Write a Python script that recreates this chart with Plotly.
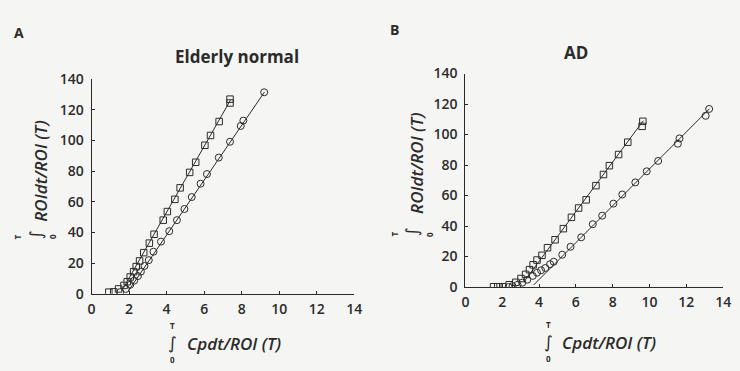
import plotly.graph_objects as go

# ---------------- data ----------------
# Panel A: Elderly normal
a_sq_x = [0.92, 1.18, 1.44, 1.73, 1.90, 2.06, 2.24, 2.38, 2.56, 2.78, 3.08, 3.33, 3.82, 4.04, 4.44, 4.72, 5.23, 5.55, 6.04, 6.34, 6.80, 7.38, 7.38]
a_sq_y = [1.0, 1.2, 3.1, 5.4, 7.8, 10.9, 14.4, 17.7, 21.4, 26.8, 33.0, 38.8, 48.0, 53.6, 61.6, 69.1, 79.2, 85.8, 96.9, 103.3, 112.4, 124.5, 127.0]
a_ci_x = [1.53, 1.83, 2.06, 2.27, 2.47, 2.63, 2.82, 3.05, 3.30, 3.70, 4.14, 4.55, 4.95, 5.34, 5.81, 6.15, 6.78, 7.38, 7.95, 8.09, 9.20]
a_ci_y = [1.0, 3.1, 5.8, 8.5, 11.5, 14.4, 18.1, 21.9, 27.4, 34.0, 40.8, 48.0, 55.3, 63.1, 71.8, 78.1, 88.9, 99.2, 109.5, 113.0, 131.5]

# Panel B: AD
b_sq_x = [1.53, 1.76, 2.03, 2.38, 2.74, 3.02, 3.27, 3.48, 3.68, 3.89, 4.16, 4.46, 4.87, 5.32, 5.76, 6.15, 6.56, 7.09, 7.50, 7.82, 8.32, 8.82, 9.60, 9.64]
b_sq_y = [0.2, 0.2, 0.2, 1.5, 3.1, 5.6, 8.3, 11.4, 14.6, 17.7, 20.8, 25.8, 31.0, 38.3, 45.7, 51.8, 57.2, 66.5, 73.8, 79.6, 86.9, 95.0, 105.4, 108.7]
b_ci_x = [2.35, 2.56, 2.83, 3.09, 3.36, 3.66, 3.89, 4.11, 4.34, 4.60, 4.80, 5.26, 5.71, 6.29, 6.92, 7.43, 8.04, 8.52, 9.23, 9.85, 10.47, 11.54, 11.63, 13.05, 13.24]
b_ci_y = [0.0, 0.6, 1.5, 2.9, 4.8, 7.3, 9.4, 11.0, 12.5, 15.0, 16.6, 21.2, 26.4, 32.6, 41.2, 46.8, 54.7, 60.7, 68.6, 75.9, 82.7, 94.0, 97.5, 112.3, 116.8]

# Linear fits: [slope, intercept, x_start, x_end]
a_sq_fit = [21.5, -32.8, 1.65, 7.40]
a_ci_fit = [17.9, -33.3, 1.95, 9.22]
b_sq_fit = [16.3, -48.4, 3.20, 9.66]
b_ci_fit = [12.1, -43.5, 3.70, 13.26]

x_ticks = [0, 2, 4, 6, 8, 10, 12, 14]
y_ticks = [0, 20, 40, 60, 80, 100, 120, 140]

titles = ["Elderly normal", "AD"]
panel_labels = ["A", "B"]
y_title = "ROIdt/ROI (T)"
x_title = "Cpdt/ROI (T)"
integral = "∫"
upper_limit = "T"
lower_limit = "0"

# ---------------- styling ----------------
INK = "#2b2b2b"
BG = "#f5f5f3"
FONT = "Open Sans"

fig = go.Figure()


def add_panel(sqx, sqy, cix, ciy, fit_sq, fit_ci, xa, ya):
    for fit in (fit_sq, fit_ci):
        s, b, x0, x1 = fit
        fig.add_trace(go.Scatter(x=[x0, x1], y=[s * x0 + b, s * x1 + b], mode="lines",
                                 line=dict(color=INK, width=1), xaxis=xa, yaxis=ya,
                                 showlegend=False, hoverinfo="skip"))
    fig.add_trace(go.Scatter(x=sqx, y=sqy, mode="markers", xaxis=xa, yaxis=ya, showlegend=False,
                             marker=dict(symbol="square-open", size=6.5, color=INK, line=dict(width=1))))
    fig.add_trace(go.Scatter(x=cix, y=ciy, mode="markers", xaxis=xa, yaxis=ya, showlegend=False,
                             marker=dict(symbol="circle-open", size=7, color=INK, line=dict(width=1))))


add_panel(a_sq_x, a_sq_y, a_ci_x, a_ci_y, a_sq_fit, a_ci_fit, "x", "y")
add_panel(b_sq_x, b_sq_y, b_ci_x, b_ci_y, b_sq_fit, b_ci_fit, "x2", "y2")

W, H = 740, 371
dom = {
    "A": dict(x=[89 / W, 356 / W], y=[1 - 299 / H, 1 - 73 / H]),
    "B": dict(x=[469 / W, 731 / W], y=[1 - 292 / H, 1 - 67 / H]),
}

axis_common = dict(showgrid=False, zeroline=False, showline=True, linecolor=INK, linewidth=1.2,
                   ticks="inside", ticklen=3, tickcolor=INK, tickwidth=1,
                   tickfont=dict(family=FONT, size=14, color=INK, weight=600))

fig.update_layout(
    width=W, height=H, margin=dict(l=0, r=0, t=0, b=0),
    paper_bgcolor=BG, plot_bgcolor=BG,
    xaxis=dict(domain=dom["A"]["x"], range=[0, 14], tickvals=x_ticks, anchor="y", ticklabelstandoff=2, **axis_common),
    yaxis=dict(domain=dom["A"]["y"], range=[0, 140], tickvals=y_ticks, anchor="x", ticklabelstandoff=4, **axis_common),
    xaxis2=dict(domain=dom["B"]["x"], range=[0, 14], tickvals=x_ticks, anchor="y2", ticklabelstandoff=2, **axis_common),
    yaxis2=dict(domain=dom["B"]["y"], range=[0, 140], tickvals=y_ticks, anchor="x2", ticklabelstandoff=4, **axis_common),
)

ann = []


def add_text(px, py, text, font, angle=0):
    ann.append(dict(x=px / W, y=1 - py / H, text=text, textangle=angle, xref="paper", yref="paper",
                    xanchor="center", yanchor="middle", showarrow=False, font=font))


lfont = dict(family=FONT, size=14, color=INK, weight="bold")
hfont = dict(family=FONT, size=17, color=INK, weight="bold")
tfont = dict(family=FONT, size=17, color=INK, style="italic", weight=600)
ifont = dict(family="DejaVu Sans", size=17, color=INK)
sfont = dict(family=FONT, size=8, color=INK, weight="bold")

# panel letters
add_text(15, 24, panel_labels[0], lfont)
add_text(397, 21, panel_labels[1], lfont)
# titles
add_text(237, 49, titles[0], hfont)
add_text(581, 45, titles[1], hfont)
# y titles (rotated) with integral and limits
for (cx, cy, ix, iy, tx, zx) in [(37, 170, 32, 237, 14, 50), (420, 162, 415, 234, 397, 433)]:
    add_text(cx, cy, y_title, tfont, -90)
    add_text(ix, iy, integral, ifont, -90)
    add_text(tx, iy + 2, upper_limit, sfont, -90)
    add_text(zx, iy + 2, lower_limit, sfont, -90)
# x titles with integral and limits
for (cx, cy, ix) in [(234, 351, 171), (615, 350, 553)]:
    add_text(cx, cy, x_title, tfont)
    add_text(ix, cy, integral, ifont)
    add_text(ix, cy - 18, upper_limit, sfont)
    add_text(ix, cy + 17, lower_limit, sfont)

fig.update_layout(annotations=ann)
fig.write_html("out.html", post_script="document.body.style.margin='0px';document.body.style.overflow='hidden';")
